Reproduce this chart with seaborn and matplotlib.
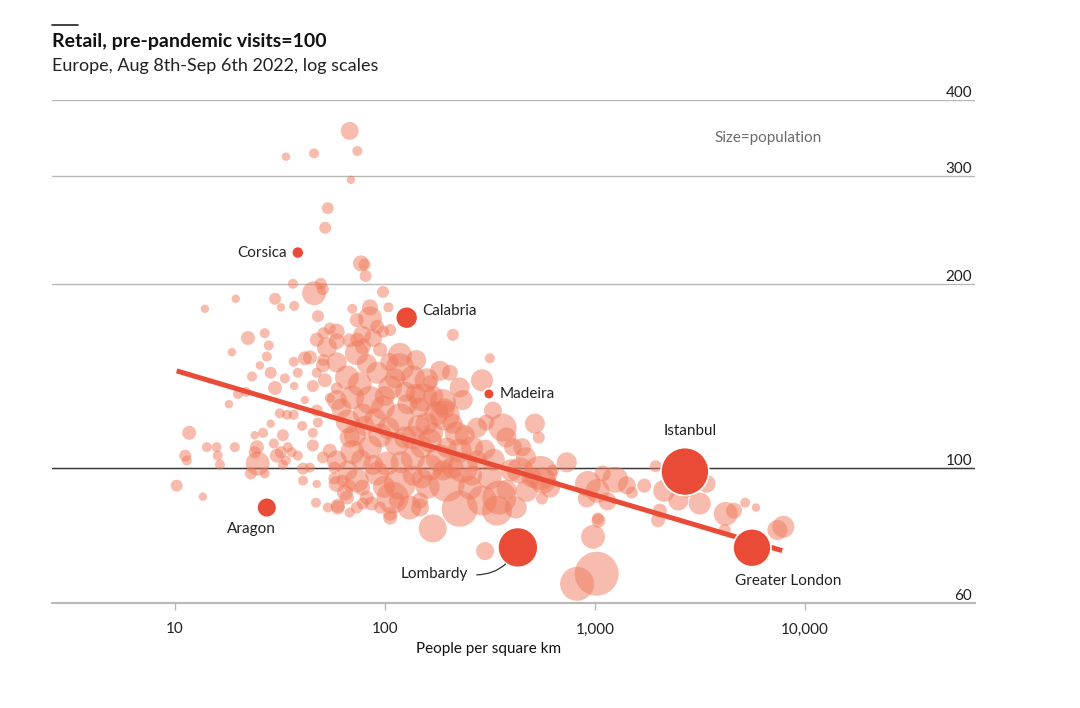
import pandas as pd
import seaborn as sns
import matplotlib.pyplot as plt
from matplotlib.lines import Line2D
from matplotlib.ticker import NullLocator

sns.set_theme(style='white')
plt.rcParams['font.family'] = ['Lato', 'DejaVu Sans']

# European regions: people per square km, retail visits (pre-pandemic=100), population (m)
density = [
    68, 33.8, 46, 74, 69, 53.5, 52, 77, 80, 81, 36.5, 46, 49.5, 50.7, 30, 19.5, 13.9, 32, 37, 48, 98, 104, 85, 70,
    22.3, 26.8, 28, 18.7, 27.4, 25.4, 23.3, 28.6, 30, 33.4, 37, 36.8, 41.6, 38.5, 45.4, 20, 21.8, 18.1, 47.4, 59, 54.7, 51,
    211, 316, 98, 88, 74, 118, 141, 204, 290, 164, 235, 193, 327, 78,
    31.6, 34.2, 36.8, 41.6, 40.4, 28.6, 24, 26.3, 32.7, 29.6, 24.6, 24, 24.8, 23, 26.8, 30.6, 32, 34.5, 36, 33.8,
    32.7, 38.5, 45.4, 40.8, 44, 40.8, 47, 53.5, 59.7, 13.6, 10.2, 11.7, 14.2, 15.8, 16, 16.4, 11.2, 11.4, 19.3,
    48, 45.4, 47.4, 54.7, 59, 51.8, 47.4, 54.7, 50.7, 57.5, 47.4, 63, 68, 66, 73.5, 82, 68, 95, 106, 114, 147, 78, 57.5,
    66.5, 78.6, 98, 118, 146, 193, 220, 189, 275, 304, 364, 379, 518, 541, 451, 470, 550, 440, 316, 351, 254, 227,
    290, 275, 197, 235, 183, 164, 136, 118, 109, 131, 147, 106, 86.5, 78.6, 59.7, 169, 342, 473, 500, 565, 611, 560,
    73.5, 66.5, 59, 70, 85, 92, 102, 95, 114, 136, 164, 158, 197, 227, 189, 136, 59, 64.5,
    50.7, 59, 66, 73.5, 78.6, 68, 76, 85, 70, 59, 106, 118, 136, 158, 183, 152, 176, 227, 95, 106, 53, 44, 73.5, 85,
    92, 51, 59,
    62, 72, 80, 90, 104, 125, 128, 145, 170, 210, 240, 260, 100, 112, 92, 125, 140, 170, 82, 105, 150, 120, 99, 88,
    160, 210, 260, 300, 330, 400, 380, 420, 150, 77, 68,
    408, 735, 631, 927, 1030, 1250, 1090, 915, 1150, 1420, 1500, 1720, 1950, 1035, 980, 1040, 2140, 2040, 2500, 2000,
    823, 1020, 300, 2740, 3160, 3400, 4200, 4600, 4150, 5200, 5850, 7400, 7900, 2230,
]
visits = [
    356, 323, 327, 330, 296, 266, 247, 216, 215, 206, 200, 193, 200, 196, 189, 189, 182, 183, 184, 177, 194, 183, 183, 182,
    163, 166, 158.5, 154.5, 152, 147, 141, 143, 135, 140, 136, 149, 151, 143, 136, 132, 133, 127, 162, 161, 169, 150,
    165, 151, 167, 163, 162, 153, 150, 143, 139, 138, 129, 125, 124, 165,
    122.7, 122, 122, 129, 117, 118, 113, 114, 113, 109.5, 108, 106, 101.5, 97.8, 97.8, 104.6, 106, 108, 106, 102.7,
    101, 104.6, 108.7, 99.6, 100, 95.2, 87.6, 86, 86.6, 89.6, 93.4, 114, 108, 108, 104.6, 101.1, 104.6, 102.7, 108,
    118.5, 114, 124, 130, 134.8, 139, 143, 106.6, 103.9, 100, 94, 95.2, 93.4, 89.3, 86, 89.3, 84.4, 86, 84, 88.3, 86, 92.7, 96,
    119, 122.6, 125.4, 120.8, 125.4, 121.7, 113.7, 128, 116.3, 118.5, 116.3, 112, 118, 112, 108, 104, 98, 98.9, 96.3, 89.3, 92.7, 85.6,
    88.3, 102.7, 94.1, 100, 103.5, 100, 103.5, 94.1, 89.3, 86, 88.3, 82.8, 87.3, 87.3, 86, 79.5, 85, 91.6, 96.3, 95.2, 92.7, 89,
    95.2, 98.9, 102.7, 106, 108, 97.8, 101.5, 112.9, 109.5, 112, 110.7, 118, 107.8, 106.6, 98.9, 97, 94, 91,
    147, 148.7, 140.5, 154, 158, 161.6, 137, 129, 130.3, 129, 135.3, 146, 140.5, 139, 144, 130.3, 122.7, 135.3, 156, 168, 157.4, 151.5, 174.4, 175.5,
    170, 166, 167,
    125, 113, 117, 120, 116, 112, 127, 117, 114, 118, 113, 108, 131, 140, 143, 133, 132, 131, 148, 149, 108, 102, 93, 101,
    93, 100, 97, 107, 103, 99, 92, 86, 96, 103, 112,
    108, 102, 98.9, 94, 91.6, 95.5, 97.8, 89, 88, 93.5, 91, 93.4, 100.5, 82.5, 77, 81.8, 91.6, 85, 88.3, 82,
    64.5, 67, 73, 92.7, 87.3, 94.1, 84, 85, 79, 87.6, 86, 79, 80, 100,
]
population = [
    1.85, 0.05, 0.26, 0.26, 0.05, 0.57, 0.57, 1.37, 0.57, 0.57, 0.26, 3.6, 0.57, 0.57, 0.57, 0.05, 0.05, 0.05, 0.26, 0.57, 0.57, 0.26, 1.37, 0.26,
    0.94, 0.26, 0.26, 0.05, 0.26, 0.05, 0.26, 0.57, 0.94, 0.26, 0.05, 0.26, 0.94, 0.26, 0.57, 0.26, 0.26, 0.05, 0.94, 1.37, 0.57, 0.57,
    0.57, 0.26, 0.57, 1.85, 0.94, 3.6, 2.4, 1.37, 3.0, 0.94, 2.4, 2.4, 1.85, 1.85,
    0.26, 0.26, 0.26, 0.05, 0.26, 0.05, 0.05, 0.26, 0.57, 0.26, 0.94, 0.57, 3.6, 0.57, 0.26, 0.94, 0.57, 0.26, 0.26, 0.26,
    0.26, 0.26, 0.57, 0.57, 0.26, 0.26, 0.26, 0.26, 0.94, 0.05, 0.57, 0.94, 0.26, 0.26, 0.26, 0.26, 0.57, 0.26, 0.26,
    0.26, 0.26, 0.57, 0.26, 0.57, 0.94, 0.26, 0.94, 0.57, 0.57, 0.05, 0.57, 0.57, 0.94, 0.57, 0.94, 0.26, 0.57, 0.94, 1.37, 1.85, 1.37, 0.57,
    3.6, 2.4, 3.6, 5.1, 2.4, 5.9, 3.6, 4.35, 2.4, 1.37, 5.1, 2.4, 2.4, 0.57, 1.85, 2.4, 7.75, 4.35, 3.6, 7.75, 3.6, 8.75,
    5.9, 2.4, 8.75, 5.9, 5.1, 4.35, 3.6, 6.8, 6.8, 3.6, 1.37, 0.94, 0.94, 0.57, 0.94, 5.1, 5.9, 3.0, 2.4, 4.35, 2.4, 0.57,
    3.6, 2.4, 2.4, 3.6, 3.6, 3.6, 3.6, 3.6, 3.6, 3.6, 3.6, 3.0, 2.4, 3.6, 2.4, 2.4, 1.37, 1.37,
    0.94, 2.4, 3.6, 3.6, 1.37, 0.94, 3.6, 5.1, 3.6, 2.4, 3.6, 5.1, 3.6, 3.6, 2.4, 5.1, 3.6, 2.4, 0.94, 0.57, 2.4, 0.94, 0.94, 3.6,
    0.94, 0.57, 1.37,
    2.4, 3.0, 2.4, 3.0, 3.0, 3.0, 2.4, 3.0, 2.4, 2.4, 2.4, 3.0, 2.4, 2.4, 3.0, 2.4, 2.4, 2.4, 2.4, 1.85, 3.0, 3.0, 3.0, 2.4,
    3.6, 3.0, 2.4, 2.4, 3.0, 3.0, 2.4, 3.0, 2.4, 2.4, 2.4,
    1.85, 2.4, 0.57, 4.35, 3.6, 4.35, 1.37, 1.85, 1.85, 1.85, 0.57, 0.94, 0.57, 0.57, 3.6, 0.94, 3.0, 0.94, 2.4, 0.94,
    7.75, 13.3, 1.85, 2.4, 3.0, 1.85, 3.6, 1.37, 0.57, 0.26, 0.05, 2.4, 3.0, 0.94,
]

# highlighted regions
hl_names = ['Corsica', 'Calabria', 'Madeira', 'Istanbul', 'Greater London', 'Lombardy', 'Aragon']
hl_density = [38.5, 127, 313, 2685, 5600, 430, 27.4]
hl_visits = [225, 176, 132, 98.5, 73.9, 74, 86]
hl_population = [0.6, 3.0, 0.35, 15.9, 9.8, 10.9, 2.3]

# fitted trend line
trend_density = [10.2, 7800]
trend_visits = [144, 73.1]

red = '#EA4B36'
pale = '#F07A5C'

df = pd.DataFrame({'density': density, 'visits': visits, 'population': population})
hl = pd.DataFrame({'name': hl_names, 'density': hl_density, 'visits': hl_visits, 'population': hl_population})

fig, ax = plt.subplots(figsize=(10.8, 7.08), dpi=100)
fig.subplots_adjust(left=52/1080, right=975/1080, bottom=1-603/708, top=1-100/708)
ax.set_xscale('log')
ax.set_yscale('log')

ax.grid(axis='y', color='#b8b8b8', lw=1, zorder=0)
ax.axhline(100, color='#3a3a3a', lw=1, zorder=1)

sns.scatterplot(data=df, x='density', y='visits', size='population', sizes=(33, 1201), size_norm=(0, 16),
                color=pale, alpha=0.5, linewidth=0, legend=False, ax=ax, zorder=3)
sns.lineplot(x=trend_density, y=trend_visits, color=red, lw=3.6, solid_capstyle='butt', ax=ax, zorder=4)
sns.scatterplot(data=hl, x='density', y='visits', size='population', sizes=(33, 1201), size_norm=(0, 16),
                color=red, edgecolor='white', linewidth=1.2, alpha=1, legend=False, ax=ax, zorder=5)

# labels for highlighted regions
offsets = {
    'Corsica': ((-11, 0), 'right', 'center'),
    'Calabria': ((16, 7), 'left', 'center'),
    'Madeira': ((11, 0), 'left', 'center'),
    'Istanbul': ((5, 41), 'center', 'center'),
    'Greater London': ((36, -33), 'center', 'center'),
    'Aragon': ((-15, -21), 'center', 'center'),
}
for name, x, y in zip(hl_names, hl_density, hl_visits):
    if name == 'Lombardy':
        ax.annotate(name, xy=(x, y), xytext=(-50, -27), textcoords='offset pixels', ha='right', va='center',
                    fontsize=11, color='#222', zorder=6,
                    arrowprops=dict(arrowstyle='-', color='#333', lw=0.9, relpos=(1, 0.5),
                                    connectionstyle='arc3,rad=0.35', shrinkA=4, shrinkB=15))
        continue
    off, ha, va = offsets[name]
    ax.annotate(name, xy=(x, y), xytext=off, textcoords='offset pixels', ha=ha, va=va,
                fontsize=11, color='#222', zorder=6)

ax.set_xlim(2.6, 64600)
ax.set_ylim(60, 400)

ax.set_xticks([10, 100, 1000, 10000])
ax.set_xticklabels(['10', '100', '1,000', '10,000'])
ax.xaxis.set_minor_locator(NullLocator())
ax.tick_params(axis='x', length=5, width=1, color='#b8b8b8', direction='out', pad=9, labelsize=11, labelcolor='#222')
ax.tick_params(axis='x', bottom=True)

ax.set_yticks([60, 100, 200, 300, 400])
ax.set_yticklabels(['60', '100', '200', '300', '400'])
ax.yaxis.set_minor_locator(NullLocator())
ax.yaxis.tick_right()
ax.tick_params(axis='y', length=0, pad=-2, labelsize=11, labelcolor='#222')
plt.setp(ax.get_yticklabels(), ha='right', va='bottom')

for side in ['left', 'right', 'top']:
    ax.spines[side].set_visible(False)
ax.spines['bottom'].set_color('#b8b8b8')
ax.spines['bottom'].set_linewidth(1.5)

ax.set_ylabel('')
ax.set_xlabel('People per square km', fontsize=11, color='#111')
ax.xaxis.set_label_coords(0.473, -0.078)

ax.text(0.776, 0.924, 'Size=population', transform=ax.transAxes, ha='center', va='center',
        fontsize=11, color='#6b6b6b')

fig.add_artist(Line2D([52/1080, 78/1080], [1-25/708, 1-25/708], color='#222', lw=1.2))
fig.text(52/1080, 1-33/708, 'Retail, pre-pandemic visits=100', fontsize=14, fontweight='bold',
         color='#111', ha='left', va='top')
fig.text(52/1080, 1-58/708, 'Europe, Aug 8th-Sep 6th 2022, log scales', fontsize=13, color='#222',
         ha='left', va='top')

fig.savefig('out.png', dpi=100)
